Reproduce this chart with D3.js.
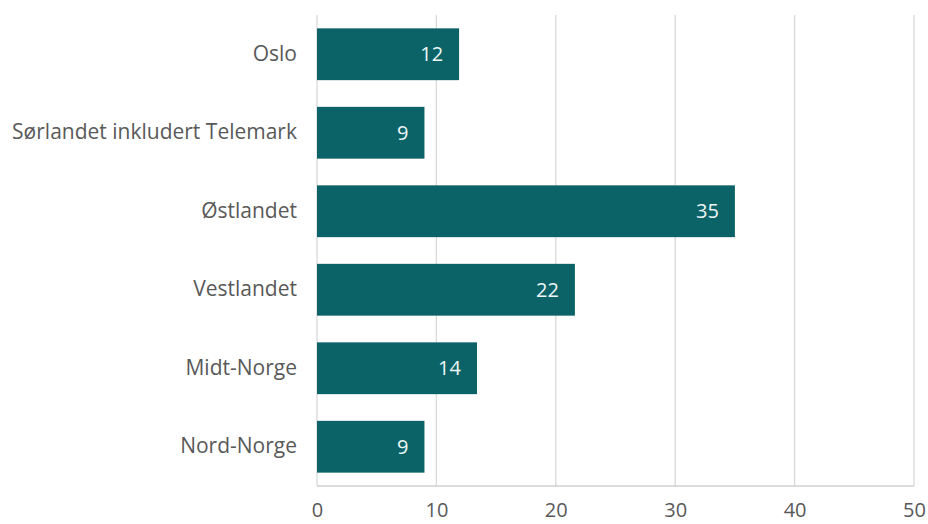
<!DOCTYPE html>
<html>
<head>
<meta charset="utf-8">
<script src="https://cdn.jsdelivr.net/npm/d3@7"></script>
<style>
  body { margin: 0; background: #fff; }
  svg text { font-family: "Open Sans", "Liberation Sans", sans-serif; }
</style>
</head>
<body>
<div class="chart"></div>
<script>
// Data
var regions = ["Oslo", "Sørlandet inkludert Telemark", "Østlandet", "Vestlandet", "Midt-Norge", "Nord-Norge"];
var values = [11.9, 9, 35, 21.6, 13.4, 9];
var valueLabels = ["12", "9", "35", "22", "14", "9"];
var xTicks = [0, 10, 20, 30, 40, 50];

var svgWidth = 928;
var svgHeight = 524;
var margin = {top: 15, right: 14, bottom: 38, left: 317};
var width = svgWidth - margin.left - margin.right;
var height = svgHeight - margin.top - margin.bottom;

var svg = d3.select(".chart")
    .append("svg")
    .attr("width", svgWidth)
    .attr("height", svgHeight)
    .append("g")
    .attr("transform", "translate(" + margin.left + "," + margin.top + ")");

var x = d3.scaleLinear().domain([0, 50]).range([0, width]);
var y = d3.scaleBand().domain(regions).range([0, height]).paddingInner(0.34).paddingOuter(0.17);

// gridlines
svg.selectAll(".grid")
    .data(xTicks)
    .enter()
    .append("line")
    .attr("x1", function(d) { return x(d); })
    .attr("x2", function(d) { return x(d); })
    .attr("y1", 0)
    .attr("y2", height)
    .style("stroke", "#d9d9d9")
    .style("stroke-width", 1.3);

// bottom axis line
svg.append("line")
    .attr("x1", 0).attr("x2", width)
    .attr("y1", height).attr("y2", height)
    .style("stroke", "#d0d0d0")
    .style("stroke-width", 1.5);

// x tick labels
var bottomAxis = d3.axisBottom(x).tickValues(xTicks).tickSize(0).tickPadding(17);
var gx = svg.append("g")
    .attr("transform", "translate(0," + height + ")")
    .call(bottomAxis);
gx.select(".domain").remove();
gx.selectAll("text")
    .style("font-size", "20px")
    .style("fill", "#595959");

// category labels
var leftAxis = d3.axisLeft(y).tickSize(0).tickPadding(20);
var gy = svg.append("g").call(leftAxis);
gy.select(".domain").remove();
gy.selectAll("text")
    .style("font-size", "21px")
    .style("fill", "#595959");

// bars
var rows = regions.map(function(r, i) { return {region: r, value: values[i], label: valueLabels[i]}; });

svg.selectAll(".bar")
    .data(rows)
    .enter()
    .append("rect")
    .attr("class", "bar")
    .attr("x", 0)
    .attr("y", function(d) { return y(d.region); })
    .attr("width", function(d) { return x(d.value); })
    .attr("height", y.bandwidth())
    .style("fill", "#0b6367");

svg.selectAll(".barText")
    .data(rows)
    .enter()
    .append("text")
    .attr("x", function(d) { return x(d.value) - 16; })
    .attr("y", function(d) { return y(d.region) + y.bandwidth() / 2; })
    .attr("dy", "0.36em")
    .attr("text-anchor", "end")
    .style("font-size", "20px")
    .style("font-weight", "500")
    .style("fill", "#eef7f7")
    .text(function(d) { return d.label; });
</script>
</body>
</html>
